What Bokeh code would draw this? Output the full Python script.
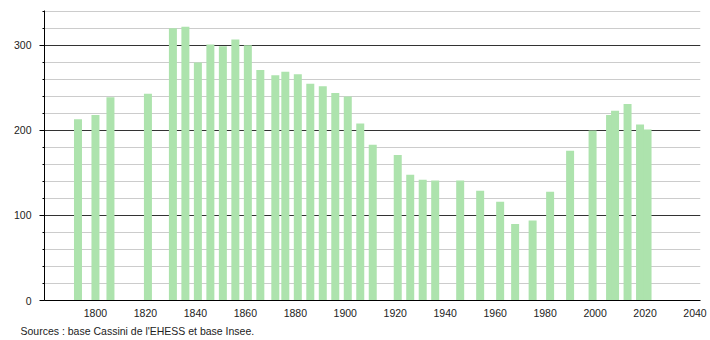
from bokeh.plotting import figure
from bokeh.models import Range1d, FixedTicker, Title
from bokeh.embed import file_html
from bokeh.resources import INLINE

years = [1793, 1800, 1806, 1821, 1831, 1836, 1841, 1846, 1851, 1856, 1861, 1866,
         1872, 1876, 1881, 1886, 1891, 1896, 1901, 1906, 1911, 1921, 1926, 1931,
         1936, 1946, 1954, 1962, 1968, 1975, 1982, 1990, 1999, 2006, 2008, 2013,
         2018, 2021]
population = [213, 218, 239, 243, 320, 322, 280, 301, 299, 307, 300, 271,
              265, 269, 266, 255, 252, 244, 240, 208, 183, 171, 148, 142,
              141, 141, 129, 116, 90, 94, 128, 176, 200, 218, 223, 231,
              207, 201]
x_ticks = [1800, 1820, 1840, 1860, 1880, 1900, 1920, 1940, 1960, 1980, 2000, 2020, 2040]
y_major = [0, 100, 200, 300]
y_minor = list(range(0, 341, 20))
source_text = "Sources : base Cassini de l'EHESS et base Insee."

FONT = "Liberation Sans"

p = figure(width=710, height=340, output_backend="svg", toolbar_location=None,
           x_range=Range1d(1779.6, 2042.2), y_range=Range1d(0, 341),
           min_border_left=44, min_border_right=10, min_border_top=10,
           min_border_bottom=0, background_fill_color="white",
           border_fill_color="white")
p.outline_line_color = None

p.vbar(x=years, top=population, width=3.2, bottom=0,
       fill_color="#ade3ad", line_color=None)

# x axis
p.xaxis.ticker = FixedTicker(ticks=x_ticks)
p.xaxis.major_tick_line_color = None
p.xaxis.minor_tick_line_color = None
p.xaxis.axis_line_color = "black"
p.xaxis.major_label_standoff = 2
p.xaxis.major_label_text_font = FONT
p.xaxis.major_label_text_font_size = "10.5px"
p.xaxis.major_label_text_color = "#222222"
p.xgrid.grid_line_color = None

# y axis
p.yaxis.ticker = FixedTicker(ticks=y_major, minor_ticks=y_minor)
p.yaxis.axis_line_color = "black"
p.yaxis.major_tick_out = 5
p.yaxis.major_tick_in = 0
p.yaxis.minor_tick_out = 2
p.yaxis.minor_tick_in = 0
p.yaxis.major_tick_line_color = "black"
p.yaxis.minor_tick_line_color = "black"
p.yaxis.major_label_standoff = 8
p.yaxis.major_label_text_font = FONT
p.yaxis.major_label_text_font_size = "10.5px"
p.yaxis.major_label_text_color = "#222222"

p.ygrid.grid_line_color = "#333333"
p.ygrid.grid_line_width = 1
p.ygrid.minor_grid_line_color = "#cccccc"
p.ygrid.minor_grid_line_width = 1

src = Title(text=source_text, text_font=FONT, text_font_size="10.5px",
            text_color="#222222", text_font_style="normal", align="left",
            offset=-24, standoff=7)
p.add_layout(src, "below")

open("out.html", "w").write(file_html(p, INLINE))
